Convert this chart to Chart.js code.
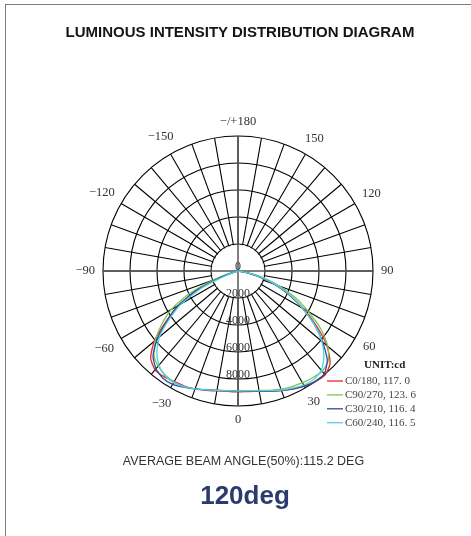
<!DOCTYPE html>
<html>
<head>
<meta charset="utf-8">
<script src="https://cdn.jsdelivr.net/npm/chart.js@4.4.1/dist/chart.umd.min.js"></script>
<style>
  body { margin: 0; background: #fff; }
  #wrap { position: relative; width: 471px; height: 536px; overflow: hidden; }
  #frame { position: absolute; left: 5px; top: 4px; width: 480px; height: 540px; border-top: 1px solid #7a7a7a; border-left: 1px solid #7a7a7a; }
  #chart { position: absolute; left: 0; top: 0; }
  .txt { position: absolute; text-align: center; white-space: nowrap; font-family: "Liberation Sans", Arial, sans-serif; }
  #title { left: 0; width: 480px; top: 23px; line-height: 18px; font-size: 15px; font-weight: bold; color: #151515; }
  #beam { left: 0; width: 487px; top: 454px; line-height: 15px; font-size: 12.5px; color: #333; }
  #big { left: 0; width: 490px; top: 480px; line-height: 30px; font-size: 26px; font-weight: bold; color: #2b3b6d; }
</style>
</head>
<body>
<div id="wrap">
  <div id="frame"></div>
  <canvas id="chart" width="471" height="536"></canvas>
  <div class="txt" id="title">LUMINOUS INTENSITY DISTRIBUTION DIAGRAM</div>
  <div class="txt" id="beam">AVERAGE BEAM ANGLE(50%):115.2 DEG</div>
  <div class="txt" id="big">120deg</div>
</div>
<script>
// gamma angles (deg) where the curves are read, -90 .. 90
const gammaAngles = [-90, -85, -80, -75, -70, -65, -60, -55, -50, -45, -40, -35, -30, -25, -20, -15, -10, -5, 0,
  5, 10, 15, 20, 25, 30, 35, 40, 45, 50, 55, 60, 65, 70, 75, 80, 85, 90];

// intensities (cd) for each C-plane
const c0 = [0, 0, 0, 200, 1300, 3300, 5100, 6500, 8100, 9150, 9550, 9550, 9450, 9400, 9300, 9150, 9020, 8950, 8950,
  8960, 9050, 9220, 9420, 9650, 9850, 10000, 10050, 9650, 8600, 7100, 5600, 4200, 2900, 1600, 500, 0, 0];
const c90 = [0, 0, 0, 600, 2000, 4000, 5700, 6900, 8000, 8800, 9200, 9400, 9500, 9450, 9300, 9100, 8970, 8890, 8870,
  8890, 8990, 9150, 9320, 9450, 9550, 9650, 9700, 9450, 8700, 7500, 6000, 4700, 3300, 2000, 800, 0, 0];
const c30 = [0, 0, 0, 300, 1400, 3400, 5100, 6400, 7800, 8900, 9450, 9700, 9700, 9500, 9300, 9120, 8980, 8900, 8880,
  8900, 9020, 9200, 9400, 9630, 9850, 9980, 9950, 9350, 8200, 6900, 5500, 4200, 2900, 1600, 500, 0, 0];
const c60 = [0, 0, 0, 0, 800, 2900, 4800, 6200, 7600, 8500, 9100, 9450, 9550, 9450, 9300, 9120, 8980, 8900, 8880,
  8900, 9000, 9180, 9380, 9580, 9750, 9800, 9600, 9000, 8100, 6900, 5500, 4300, 3000, 1700, 600, 0, 0];

const seriesNames = ["C0/180, 117. 0", "C90/270, 123. 6", "C30/210, 116. 4", "C60/240, 116. 5"];
const seriesColors = ["#e8262f", "#7cc653", "#2c4c9e", "#4fd2e2"];

// radial ticks and angle labels (every 30 deg, from the bottom going clockwise)
const tickValues = [0, 2000, 4000, 6000, 8000];
const angleLabels = ["0", "\u221230", "\u221260", "\u221290", "\u2212120", "\u2212150", "\u2212/+180", "150", "120", "90", "60", "30"];

// 72 spokes of 5 deg: index i -> gamma
const labels = [];
for (let i = 0; i < 72; i++) labels.push(i <= 36 ? -5 * i : 360 - 5 * i);

function toRadar(values) {
  return labels.map(g => {
    const k = gammaAngles.indexOf(g);
    return k >= 0 ? values[k] : 0;
  });
}

const allSeries = [c0, c90, c30, c60];
const datasets = allSeries.map((v, i) => ({
  label: seriesNames[i],
  data: toRadar(v),
  borderColor: seriesColors[i],
  backgroundColor: seriesColors[i],
  borderWidth: 1.3,
  fill: false,
  order: 4 - i,
}));

const polarDecor = {
  id: "polarDecor",
  beforeDatasetsDraw(chart) {
    const s = chart.scales.r, ctx = chart.ctx;
    const hole = s.getDistanceFromCenterForValue(2000);
    const R = s.drawingArea;
    ctx.save();
    ctx.fillStyle = "#fff";
    ctx.beginPath();
    ctx.arc(s.xCenter, s.yCenter, hole - 0.8, 0, Math.PI * 2);
    ctx.fill();
    ctx.strokeStyle = "#555";
    ctx.lineWidth = 1.5;
    ctx.beginPath();
    ctx.moveTo(s.xCenter, s.yCenter - R);
    ctx.lineTo(s.xCenter, s.yCenter + R);
    ctx.moveTo(s.xCenter - R, s.yCenter);
    ctx.lineTo(s.xCenter + R, s.yCenter);
    ctx.stroke();
    ctx.restore();
  },
  afterDraw(chart) {
    const s = chart.scales.r, ctx = chart.ctx;
    const R = s.drawingArea;
    ctx.save();
    ctx.fillStyle = "#333";
    ctx.font = "12.5px 'Liberation Serif', serif";
    ctx.textAlign = "center";
    ctx.textBaseline = "middle";
    // angle labels
    angleLabels.forEach((t, k) => {
      const i = k * 6;
      const a = s.getIndexAngle(i);
      const w = ctx.measureText(t).width;
      const d = R + 8 + Math.abs(Math.sin(a)) * w / 2 + Math.abs(Math.cos(a)) * 6;
      const p = s.getPointPosition(i, d);
      ctx.fillText(t, p.x, p.y);
    });
    // intensity labels down the 0 axis
    ctx.font = "12px 'Liberation Serif', serif";
    ctx.textBaseline = "alphabetic";
    tickValues.forEach(v => {
      const y = s.yCenter + s.getDistanceFromCenterForValue(v);
      ctx.fillText(String(v), s.xCenter, y - 1);
    });
    // legend
    ctx.textAlign = "left";
    ctx.textBaseline = "middle";
    ctx.fillStyle = "#222";
    ctx.font = "bold 11px 'Liberation Serif', serif";
    ctx.fillText("UNIT:cd", 364, 365);
    ctx.font = "11px 'Liberation Serif', serif";
    chart.data.datasets.forEach((ds, k) => {
      const y = 381 + k * 13.9;
      ctx.strokeStyle = ds.borderColor;
      ctx.lineWidth = 1.3;
      ctx.beginPath();
      ctx.moveTo(327, y);
      ctx.lineTo(343, y);
      ctx.stroke();
      ctx.fillStyle = "#444";
      ctx.fillText(ds.label, 345, y);
    });
    ctx.restore();
  }
};

const ctx = document.getElementById("chart").getContext("2d");
const myChart = new Chart(ctx, {
  type: "radar",
  data: {
    labels: labels,
    datasets: datasets,
  },
  options: {
    responsive: false,
    animation: false,
    layout: {
      padding: { left: 103, right: 98, top: 136, bottom: 130 },
    },
    elements: {
      point: { radius: 0, hoverRadius: 0 },
      line: { tension: 0.2 },
    },
    plugins: {
      legend: { display: false },
      tooltip: { enabled: false },
    },
    scales: {
      r: {
        startAngle: 180,
        min: 0,
        max: 10000,
        ticks: { stepSize: 2000, display: false },
        grid: { circular: true, color: "#000", lineWidth: 1.1 },
        angleLines: {
          color: (c) => (c.index % 2 === 1 ? "rgba(0,0,0,0)" : "#000"),
          lineWidth: 1.1,
        },
        pointLabels: { display: false },
      },
    },
  },
  plugins: [polarDecor],
});
</script>
</body>
</html>
